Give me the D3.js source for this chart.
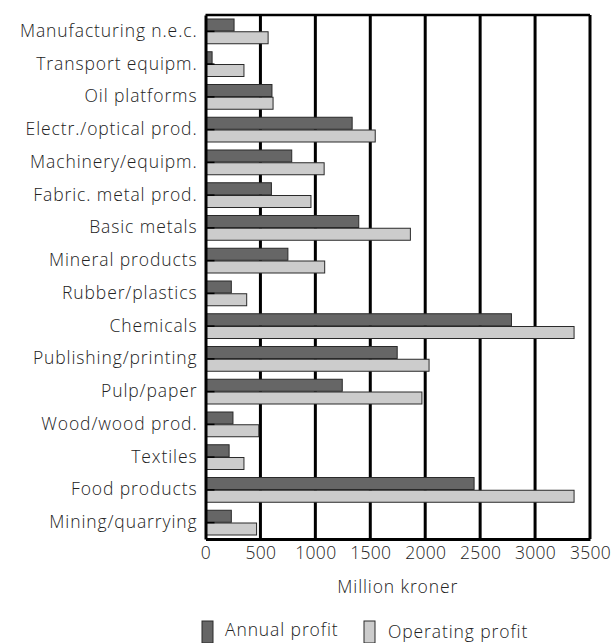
<!DOCTYPE html>
<html>
<head>
<meta charset="utf-8">
<script src="https://cdnjs.cloudflare.com/ajax/libs/d3/7.8.5/d3.min.js"></script>
<style>
  body { margin: 0; background: #fff; }
  svg text { font-family: "Open Sans", sans-serif; font-weight: 300; fill: #222; letter-spacing: 0.9px; }
</style>
</head>
<body>
<div id="chart"></div>
<script>
const categories = [
  'Manufacturing n.e.c.', 'Transport equipm.', 'Oil platforms', 'Electr./optical prod.',
  'Machinery/equipm.', 'Fabric. metal prod.', 'Basic metals', 'Mineral products',
  'Rubber/plastics', 'Chemicals', 'Publishing/printing', 'Pulp/paper',
  'Wood/wood prod.', 'Textiles', 'Food products', 'Mining/quarrying'
];
const annualProfit = [260, 60, 605, 1335, 785, 600, 1395, 750, 235, 2785, 1745, 1245, 250, 215, 2445, 235];
const operatingProfit = [570, 350, 615, 1545, 1080, 960, 1865, 1085, 375, 3355, 2035, 1970, 485, 350, 3355, 465];
const xTicks = [0, 500, 1000, 1500, 2000, 2500, 3000, 3500];
const seriesNames = ['Annual profit', 'Operating profit'];
const seriesColors = ['#666666', '#cccccc'];

const width = 614, height = 643;
const margin = { top: 15, right: 24, bottom: 104, left: 205.5 };
const fontSize = 17.5;

const svg = d3.select('#chart').append('svg')
  .attr('width', width).attr('height', height);

const x = d3.scaleLinear().domain([0, 3500]).range([margin.left, width - margin.right]);
const y = d3.scaleBand().domain(categories).range([margin.top, height - margin.bottom]).paddingInner(0).paddingOuter(0);
const sub = d3.scaleBand().domain([0, 1]).range([4, y.bandwidth() - 4]).paddingInner(0.06);

// gridlines
svg.append('g').selectAll('line').data(xTicks.slice(1))
  .join('line')
  .attr('x1', d => x(d)).attr('x2', d => x(d))
  .attr('y1', margin.top).attr('y2', height - margin.bottom)
  .attr('stroke', '#000').attr('stroke-width', 3);

// top border
svg.append('line')
  .attr('x1', margin.left).attr('x2', x(3500))
  .attr('y1', margin.top).attr('y2', margin.top)
  .attr('stroke', '#000').attr('stroke-width', 2.5);

// bars
const rows = svg.append('g').selectAll('g').data(categories)
  .join('g')
  .attr('transform', d => `translate(0,${y(d)})`);

rows.append('rect')
  .attr('x', x(0)).attr('y', sub(0))
  .attr('width', (d, i) => x(annualProfit[i]) - x(0))
  .attr('height', sub.bandwidth())
  .attr('fill', seriesColors[0]).attr('stroke', '#2a2a2a').attr('stroke-width', 1);

rows.append('rect')
  .attr('x', x(0)).attr('y', sub(1))
  .attr('width', (d, i) => x(operatingProfit[i]) - x(0))
  .attr('height', sub.bandwidth())
  .attr('fill', seriesColors[1]).attr('stroke', '#2a2a2a').attr('stroke-width', 1);

// y axis, ticks point inward at category centres
const yAxis = svg.append('g')
  .attr('transform', `translate(${margin.left},0)`)
  .call(d3.axisLeft(y).tickSizeInner(-9).tickSizeOuter(0).tickPadding(8));
yAxis.select('.domain').attr('stroke', '#000').attr('stroke-width', 3);
yAxis.selectAll('.tick line').attr('stroke', '#000').attr('stroke-width', 1.5);
yAxis.selectAll('text').attr('font-size', fontSize).style('fill', '#222');

// x axis
const xAxis = svg.append('g')
  .attr('transform', `translate(0,${height - margin.bottom})`)
  .call(d3.axisBottom(x).tickValues(xTicks).tickFormat(d3.format('d')).tickSize(0).tickPadding(8));
xAxis.select('.domain').attr('stroke', '#000').attr('stroke-width', 3);
xAxis.selectAll('text').attr('font-size', fontSize).style('fill', '#222').style('letter-spacing', '0.3px');

svg.append('text')
  .attr('x', (x(0) + x(3500)) / 2).attr('y', 593)
  .attr('text-anchor', 'middle').attr('font-size', fontSize)
  .text('Million kroner');

// legend
const legend = [
  { name: seriesNames[0], color: seriesColors[0], sx: 202, tx: 225, base: 636 },
  { name: seriesNames[1], color: seriesColors[1], sx: 364, tx: 388, base: 638 }
];
const lg = svg.append('g').selectAll('g').data(legend).join('g');
lg.append('rect')
  .attr('x', d => d.sx).attr('y', 621)
  .attr('width', 11).attr('height', 22)
  .attr('fill', d => d.color).attr('stroke', '#2a2a2a').attr('stroke-width', 1);
lg.append('text')
  .attr('x', d => d.tx).attr('y', d => d.base)
  .attr('font-size', fontSize)
  .text(d => d.name);
</script>
</body>
</html>
